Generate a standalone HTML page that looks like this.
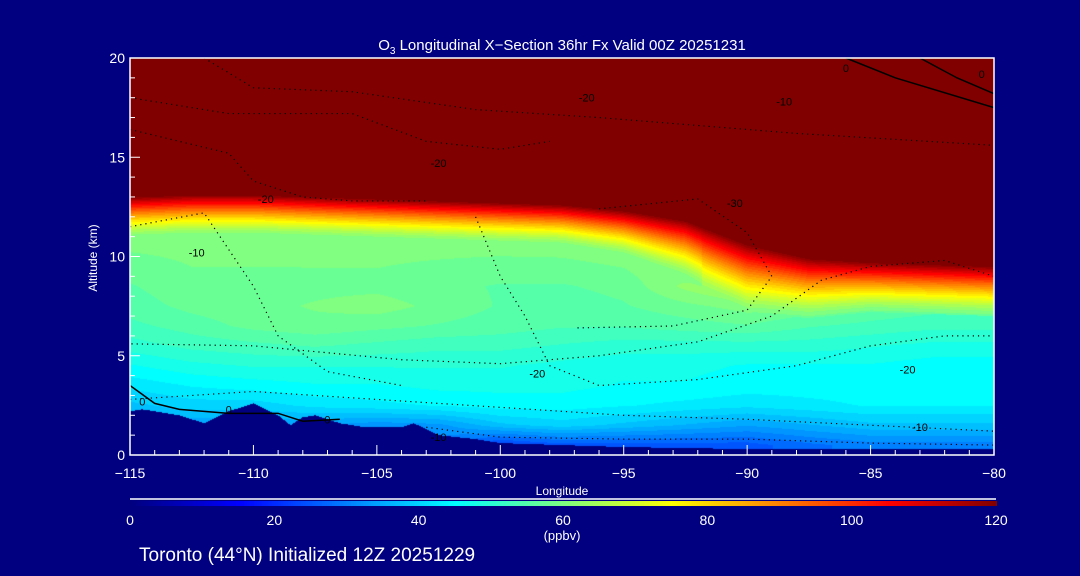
<!DOCTYPE html>
<html><head><meta charset="utf-8">
<style>
html,body{margin:0;padding:0;background:#000080;}
#wrap{position:relative;width:1080px;height:576px;background:#000080;overflow:hidden;font-family:"Liberation Sans",sans-serif;color:#fff;}
svg text{font-family:"Liberation Sans",sans-serif;}
</style></head>
<body>
<div id="wrap">
<canvas id="heat" width="864" height="397" style="position:absolute;left:130px;top:58px;"></canvas>
<canvas id="cbar" width="867" height="5" style="position:absolute;left:130px;top:501px;"></canvas>
<svg id="ov" width="1080" height="576" style="position:absolute;left:0;top:0;"></svg>
</div>
<script>
// ---- data ----
const lons = [-115,-112.5,-110,-107.5,-105,-102.5,-100,-97.5,-95,-92.5,-90,-87.5,-85,-82.5,-80];
const rowAlts = [0.5,1.5,2.5,3.5,4.5,5.5,6.5,7.5,8.5];
const grid = [
 [30,30,30,30,30,30,22,25,25,25,25,28,30,30,30],
 [34,34,34,34,32,33,38,40,38,36,34,36,38,38,38],
 [38,40,40,42,43,44,45,45,44,43,42,43,44,44,44],
 [42,44,45,46,46,47,47,47,46,46,45,45,45,45,44],
 [46,48,49,49,49,49,49,48,47,47,46,46,46,45,45],
 [50,52,53,54,53,52,52,51,50,50,50,50,49,48,48],
 [53,55,57,58,57,56,55,54,54,55,56,54,53,52,52],
 [55,57,58,59,60,58,56,55,56,58,60,58,56,55,55],
 [56,58,58,58,58,57,56,56,57,62,66,64,60,58,57]
];
const tropKm = [13.0,13.1,13.1,13.0,12.9,12.8,12.7,12.6,12.3,11.8,10.6,9.9,9.7,9.6,9.5];
const transDepth = [2,2,2,2,2,2,2,2,2.2,2.8,3.5,3,2.5,2.5,2.5];
const groundLon = [-115,-114.5,-113,-112,-111,-110,-109,-108.5,-108,-107.5,-106.5,-105.5,-104,-103.5,-102.5,-101,-100,-95,-90,-85,-80];
const groundKm  = [2.2,2.3,2.0,1.6,2.2,2.6,2.0,1.5,1.9,2.0,1.6,1.4,1.4,1.6,1.0,0.8,0.6,0.4,0.3,0.3,0.3];
const xTicks = [-115,-110,-105,-100,-95,-90,-85,-80];
const yTicks = [0,5,10,15,20];
const cbTicks = [0,20,40,60,80,100,120];

// ---- axes ----
const X0=130,X1=994,Y0=455,Y1=58;
const xs = l => X0+(l+115)/35*(X1-X0);
const ys = z => Y0-z/20*(Y0-Y1);
function jet(v){const t=Math.max(0,Math.min(1,v/120));
 const c=x=>Math.round(255*Math.max(0,Math.min(1,1.5-Math.abs(x))));
 return [c(4*t-3),c(4*t-2),c(4*t-1)];}
function interp(xa,ya,x){if(x<=xa[0])return ya[0];for(let i=1;i<xa.length;i++){if(x<=xa[i]){const f=(x-xa[i-1])/(xa[i]-xa[i-1]);return ya[i-1]+f*(ya[i]-ya[i-1]);}}return ya[ya.length-1];}
function value(l,z){
 const tr=interp(lons,tropKm,l), d=interp(lons,transDepth,l);
 if(z>=tr)return 120;
 const col=rowAlts.map((a,i)=>interp(lons,grid[i],l));
 const base=tr-d;
 const bv = base<=8.5 ? interp(rowAlts,col,Math.max(0.5,base)) : 60;
 if(z>=base){const f=(z-base)/d;const lo=Math.max(bv,58);return lo+(120-lo)*Math.pow(f,1.3);}
 if(z<=8.5){return interp(rowAlts,col,z);}
 return interp([8.5,base],[col[8],60],z);
}
// heatmap
(function(){const cv=document.getElementById('heat'),ctx=cv.getContext('2d');
 const W=cv.width,H=cv.height,img=ctx.createImageData(W,H);
 for(let px=0;px<W;px++){const l=-115+(px+0.5)/W*35;const g=interp(groundLon,groundKm,l);
  for(let py=0;py<H;py++){const z=(H-py-0.5)/H*20;let v;
   if(z<g)v=0;else{v=value(l,z);v=Math.round(v/2.5)*2.5;}
   const c=jet(v),k=(py*W+px)*4;img.data[k]=c[0];img.data[k+1]=c[1];img.data[k+2]=c[2];img.data[k+3]=255;}}
 ctx.putImageData(img,0,0);})();
// colorbar
(function(){const cv=document.getElementById('cbar'),ctx=cv.getContext('2d');
 for(let px=0;px<cv.width;px++){const c=jet(px/cv.width*120);ctx.fillStyle=`rgb(${c})`;ctx.fillRect(px,0,1,5);}})();

const NS='http://www.w3.org/2000/svg',ov=document.getElementById('ov');
function mk(tag,attrs,txt){const e=document.createElementNS(NS,tag);for(const k in attrs)e.setAttribute(k,attrs[k]);if(txt!==undefined)e.textContent=txt;ov.appendChild(e);return e;}
// contours (approximate dotted)
const contours=[
 {pts:[[-112,20],[-110,18.5],[-106,18.3],[-101,17.4],[-96,17],[-88,16.2],[-80,15.6]]},
 {pts:[[-115,18],[-111,17.2],[-106,17.2],[-103,15.8],[-100,15.4],[-98,15.8]]},
 {pts:[[-115,16.4],[-111,15.2],[-110,13.8],[-108,13],[-106,12.8],[-103,12.8]]},
 {pts:[[-115,11.5],[-112,12.2],[-110,8.5],[-109,6],[-107,4.2],[-104,3.5]]},
 {pts:[[-101,12],[-100,9],[-99,7],[-98,4.5],[-96,3.5],[-92,3.8],[-88,4.5],[-85,5.5],[-82,6],[-80,6]]},
 {pts:[[-96,12.4],[-92,12.9],[-90,11.2],[-89,9],[-90,7.3],[-93,6.5],[-97,6.4]]},
 {pts:[[-80,9],[-82,9.8],[-85,9.5],[-87,8.8],[-89,7],[-92,5.7],[-96,5],[-100,4.6],[-104,4.8],[-110,5.5],[-115,5.6]]},
 {pts:[[-115,2.8],[-110,3.2],[-105,2.8],[-100,2.4],[-95,2],[-90,1.8],[-85,1.5],[-80,1.2]]},
 {pts:[[-103,1.4],[-100,0.9],[-95,0.8],[-90,0.8],[-85,0.6],[-80,0.5]]},
 {pts:[[-86,20],[-84,19],[-80,17.5]],dash:'0'},
 {pts:[[-83,20],[-81.5,19],[-80,18.2]],dash:'0'},
 {pts:[[-115,3.5],[-114,2.6],[-113,2.3],[-111,2.1],[-109,2.1],[-108,1.7],[-106.5,1.8]],dash:'0'}
];
contours.forEach((c,i)=>{
 const p=mk('polyline',{points:c.pts.map(q=>xs(q[0])+','+ys(q[1])).join(' '),fill:'none',stroke:'#000','stroke-width':c.dash==='0'?1.5:1.2,'stroke-dasharray':c.dash==='0'?'none':'1.2 4'});
 
 
});
[['-20',-109.5,12.9],['-10',-112.3,10.2],['-20',-102.5,14.7],['-20',-96.5,18],['-10',-88.5,17.8],['0',-86,19.5],['0',-80.5,19.2],['-30',-90.5,12.7],['-20',-98.5,4.1],['-20',-83.5,4.3],['-10',-83,1.4],['-10',-102.5,0.9],['0',-114.5,2.7],['0',-111,2.3],['0',-107,1.8]].forEach(t=>{
 const e=mk('text',{x:xs(t[1]),y:ys(t[2])+4,fill:'#000','font-size':11,'text-anchor':'middle'},t[0]);
 
 
});
// frame
const fr=mk('rect',{x:X0,y:Y1,width:X1-X0,height:Y0-Y1,fill:'none',stroke:'#fff','stroke-width':1.5});

for(let l=-115;l<=-80;l++){const maj=(l%5===0);
 const t=mk('line',{x1:xs(l),x2:xs(l),y1:Y0,y2:Y0-(maj?10:5),stroke:'#fff','stroke-width':1});
 }
for(let z=0;z<=20;z++){const maj=(z%5===0);
 const t=mk('line',{x1:X0,x2:X0+(maj?10:5),y1:ys(z),y2:ys(z),stroke:'#fff','stroke-width':1});
 }
xTicks.forEach(l=>{const e=mk('text',{x:xs(l),y:478,fill:'#fff','font-size':14,'text-anchor':'middle'},(l<0?'\u2212'+(-l):l));
 });
yTicks.forEach(z=>{const e=mk('text',{x:125,y:ys(z)+5,fill:'#fff','font-size':14,'text-anchor':'end'},z);
 });
// colorbar line & labels
const cl=mk('line',{x1:130,x2:996,y1:499,y2:499,stroke:'#fff','stroke-width':1.5});

cbTicks.forEach(v=>{const e=mk('text',{x:130+v/120*866,y:525,fill:'#fff','font-size':14,'text-anchor':'middle'},v);
 });
</script>
<svg width="1080" height="576" style="position:absolute;left:0;top:0;pointer-events:none">
<text x="562" y="50" fill="#fff" font-size="15" text-anchor="middle">O<tspan font-size="10" dy="4">3</tspan><tspan dy="-4"> Longitudinal X−Section 36hr  Fx Valid 00Z 20251231</tspan></text>
<text x="562" y="495" fill="#fff" font-size="12" text-anchor="middle">Longitude</text>
<text transform="translate(97,258) rotate(-90)" fill="#fff" font-size="12" text-anchor="middle">Altitude (km)</text>
<text x="562" y="540" fill="#fff" font-size="13" text-anchor="middle">(ppbv)</text>
<text x="139" y="561" fill="#fff" font-size="19">Toronto (44°N) Initialized 12Z 20251229</text>
</svg>
</body></html>
